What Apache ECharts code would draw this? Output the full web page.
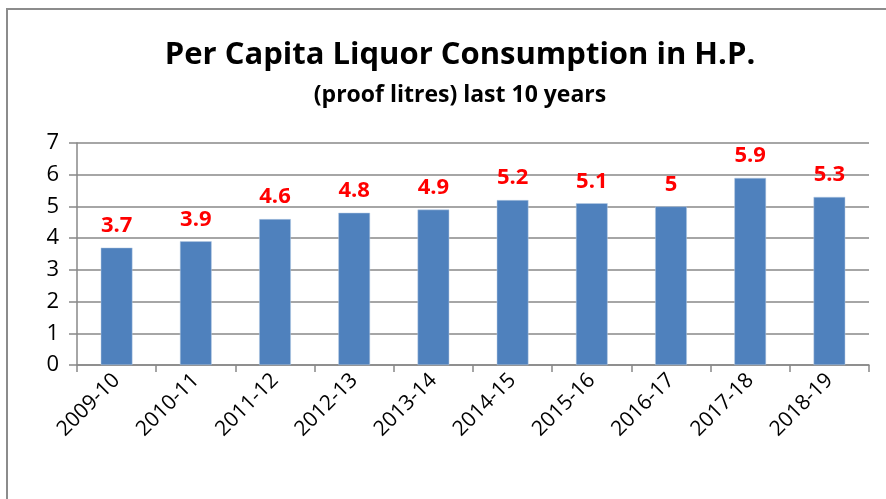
<!DOCTYPE html>
<html>
<head>
<meta charset="utf-8">
<script src="https://cdn.jsdelivr.net/npm/echarts@6/dist/echarts.min.js"></script>
<style>
    html, body { margin: 0; padding: 0; background: #fff; }
    #main { width: 886px; height: 499px; }
</style>
</head>
<body>
<div id="main"></div>
<script>
var years = ["2009-10", "2010-11", "2011-12", "2012-13", "2013-14", "2014-15", "2015-16", "2016-17", "2017-18", "2018-19"];
var consumption = [3.7, 3.9, 4.6, 4.8, 4.9, 5.2, 5.1, 5, 5.9, 5.3];
var yTicks = [0, 1, 2, 3, 4, 5, 6, 7];

var myChart = echarts.init(document.getElementById('main'));

var option = {
    backgroundColor: '#fff',
    textStyle: { fontFamily: 'Open Sans' },
    title: [
        {
            text: 'Per Capita Liquor Consumption in H.P.',
            left: 455, top: 35, textAlign: 'center',
            textStyle: { fontSize: 31, fontWeight: 'bold', color: '#000', fontFamily: 'Open Sans' }
        },
        {
            text: '(proof litres) last 10 years',
            left: 455, top: 79, textAlign: 'center',
            textStyle: { fontSize: 23, fontWeight: 'bold', color: '#000', fontFamily: 'Open Sans' }
        }
    ],
    graphic: [
        {
            type: 'rect',
            shape: { x: 7, y: 9, width: 900, height: 520 },
            style: { fill: 'none', stroke: '#8c8c8c', lineWidth: 2 }
        }
    ],
    grid: { left: 77, right: 17, top: 143, bottom: 134 },
    xAxis: {
        type: 'category',
        data: years,
        axisLine: { lineStyle: { color: '#888', width: 1.5 } },
        axisTick: { show: true, alignWithLabel: false, length: 7, lineStyle: { color: '#888', width: 1.5 } },
        axisLabel: { rotate: 45, color: '#000', fontSize: 21, margin: 12, interval: 0 }
    },
    yAxis: {
        type: 'value',
        min: yTicks[0],
        max: yTicks[yTicks.length - 1],
        interval: 1,
        axisLine: { show: true, lineStyle: { color: '#888', width: 1.5 } },
        axisTick: { show: true, length: 8, lineStyle: { color: '#888', width: 1.5 } },
        axisLabel: { color: '#000', fontSize: 22, margin: 18 },
        splitLine: { lineStyle: { color: '#888', width: 1.5 } }
    },
    series: [
        {
            type: 'bar',
            data: consumption,
            barWidth: '40%',
            itemStyle: { color: '#4f81bd', borderColor: '#b8cce4', borderWidth: 0.5 },
            label: {
                show: true,
                position: 'top',
                distance: 11,
                color: '#ff0000',
                fontSize: 22,
                fontWeight: 'bold'
            }
        }
    ]
};

myChart.setOption(option);
</script>
</body>
</html>
